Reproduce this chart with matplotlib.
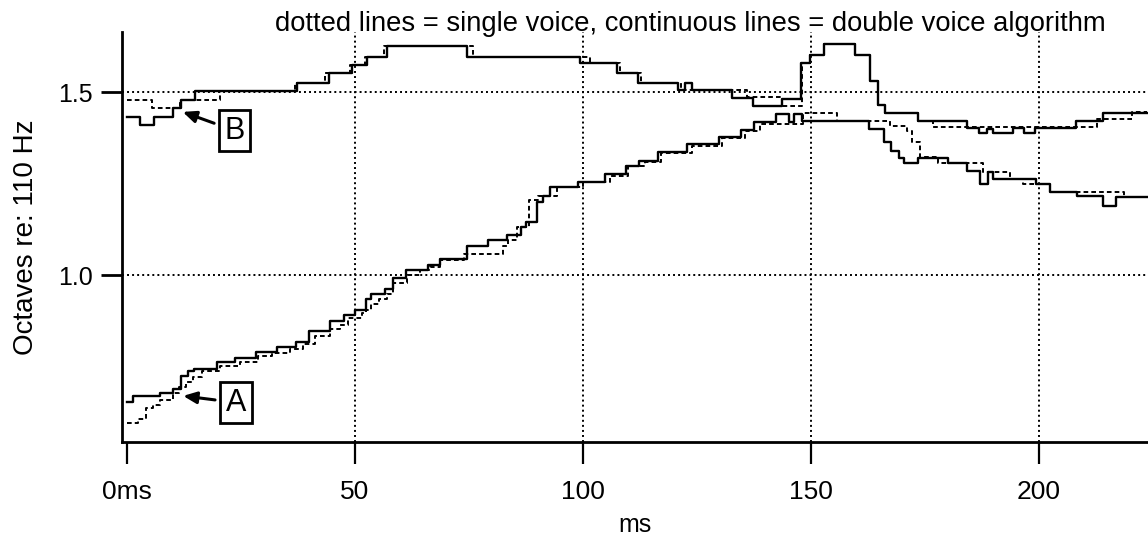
import numpy as np
import matplotlib.pyplot as plt

plt.rcParams['font.family'] = ['Liberation Sans', 'DejaVu Sans']

# --- Data (step start times in ms, pitch in octaves re: 110 Hz) ---

# A, continuous line (double voice algorithm)
a_double_t = [0, 1.25, 7.2, 10.1, 11.8, 13.4, 14.7, 19.7, 23.7, 28.3, 32.8, 37.1, 39.9,
              44.5, 47.6, 50.0, 52.3, 53.4, 56.6, 58.3, 61.2, 65.9, 68.6, 74.6, 79.2,
              83.4, 86.3, 87.5, 90.0, 91.3, 92.8, 98.8, 104.8, 109.4, 112.3, 116.4,
              122.9, 129.9, 134.6, 137.5, 142.3, 145.2, 146.3, 148.0, 162.7, 166.1,
              167.5, 169.3, 170.4, 173.4, 180.1, 184.1, 187.1, 188.8, 190.0, 199.3,
              202.3, 208.3, 214.0, 216.9]
a_double_y = [0.655, 0.672, 0.680, 0.690, 0.725, 0.740, 0.745, 0.763, 0.775, 0.791, 0.805,
              0.819, 0.847, 0.876, 0.892, 0.906, 0.936, 0.949, 0.963, 0.994, 1.015, 1.029,
              1.045, 1.081, 1.097, 1.111, 1.132, 1.147, 1.202, 1.217, 1.241, 1.255, 1.276,
              1.299, 1.314, 1.338, 1.358, 1.378, 1.398, 1.419, 1.440, 1.419, 1.440, 1.423,
              1.400, 1.364, 1.341, 1.322, 1.308, 1.322, 1.307, 1.286, 1.250, 1.284, 1.263,
              1.250, 1.227, 1.216, 1.191, 1.215]

# A, dotted line (single voice)
a_single_t = [0, 2.5, 4.2, 5.6, 7.2, 10.0, 11.5, 12.9, 14.4, 16.4, 20.4, 24.8, 28.7, 31.8,
              35.8, 38.6, 41.2, 44.5, 46.7, 48.5, 51.5, 52.4, 53.4, 55.3, 57.0, 58.4, 61.3,
              64.3, 66.5, 68.6, 73.8, 82.4, 83.6, 85.5, 88.2, 90.2, 94.2, 100.0, 105.9,
              109.9, 113.6, 117.1, 123.9, 130.5, 135.5, 138.8, 148.2, 155.7, 167.3, 171.1,
              172.1, 173.9, 177.9, 187.8, 193.6, 196.5, 202.3, 218.6]
a_single_y = [0.598, 0.607, 0.637, 0.646, 0.660, 0.678, 0.696, 0.710, 0.722, 0.739, 0.752,
              0.764, 0.780, 0.788, 0.800, 0.812, 0.834, 0.855, 0.865, 0.883, 0.897, 0.906,
              0.922, 0.936, 0.949, 0.980, 1.000, 1.015, 1.024, 1.042, 1.059, 1.081, 1.097,
              1.132, 1.206, 1.217, 1.241, 1.255, 1.272, 1.299, 1.310, 1.334, 1.355, 1.376,
              1.396, 1.415, 1.443, 1.423, 1.409, 1.395, 1.364, 1.325, 1.308, 1.284, 1.263,
              1.250, 1.227, 1.215]

# B, continuous line (double voice algorithm)
b_double_t = [0, 2.85, 5.9, 10.1, 11.8, 14.9, 37.2, 44.3, 49.4, 52.6, 57.0, 74.5, 99.3,
              107.4, 112.1, 120.9, 122.4, 123.8, 132.6, 137.3, 143.6, 147.8, 149.8, 152.9,
              159.6, 162.9, 164.6, 166.2, 173.5, 184.1, 186.9, 188.7, 190.0, 194.4, 196.7,
              199.1, 208.1, 214.1]
b_double_y = [1.434, 1.411, 1.434, 1.457, 1.480, 1.504, 1.525, 1.552, 1.575, 1.598, 1.627,
              1.598, 1.580, 1.554, 1.527, 1.507, 1.527, 1.507, 1.484, 1.464, 1.482, 1.581,
              1.602, 1.632, 1.602, 1.532, 1.466, 1.445, 1.423, 1.402, 1.389, 1.400, 1.389,
              1.402, 1.389, 1.402, 1.423, 1.445]

# B, dotted line (single voice)
b_single_t = [0, 5.4, 11.6, 20.4, 36.8, 43.4, 48.9, 52.2, 56.4, 75.9, 101.5, 108.1, 112.7,
              121.5, 135.9, 143.6, 148.0, 149.8, 152.9, 159.6, 162.9, 164.6, 166.2, 173.5,
              176.8, 212.7, 220.3]
b_single_y = [1.480, 1.457, 1.480, 1.504, 1.525, 1.552, 1.575, 1.598, 1.627, 1.598, 1.580,
              1.554, 1.527, 1.507, 1.487, 1.464, 1.581, 1.602, 1.632, 1.602, 1.532, 1.466,
              1.445, 1.423, 1.405, 1.427, 1.447]

t_end = 223.6

x_ticks = [0, 50, 100, 150, 200]
x_tick_labels = ['0ms', '50', '100', '150', '200']
y_ticks = [1.0, 1.5]
y_tick_labels = ['1.0', '1.5']

# --- Plot ---
fig = plt.figure(figsize=(11.48, 5.35), dpi=100)
ax = fig.add_axes([0.1063, 0.1738, 0.8937, 0.7662])


def draw_steps(t, y, **kw):
    # extend last step to the end of the recording
    tt = list(t) + [t_end]
    yy = list(y) + [y[-1]]
    ax.step(tt, yy, where='post', color='black', **kw)


draw_steps(a_double_t, a_double_y, lw=1.7, zorder=3)
draw_steps(b_double_t, b_double_y, lw=1.7, zorder=3)
draw_steps(a_single_t, a_single_y, lw=1.4, ls=(0, (2.4, 1.6)), zorder=2)
draw_steps(b_single_t, b_single_y, lw=1.4, ls=(0, (2.4, 1.6)), zorder=2)

# dotted grid
for gx in x_ticks[1:]:
    ax.axvline(gx, color='black', lw=1.4, ls=(0, (1, 1.6)), zorder=1)
for gy in y_ticks:
    ax.axhline(gy, color='black', lw=1.4, ls=(0, (1, 1.6)), zorder=1)

ax.set_xlim(-1.1, 223.9)
ax.set_ylim(0.545, 1.665)

ax.spines['top'].set_visible(False)
ax.spines['right'].set_visible(False)
ax.spines['left'].set_linewidth(2)
ax.spines['bottom'].set_linewidth(2)

ax.set_xticks(x_ticks)
ax.set_xticklabels(x_tick_labels)
ax.set_yticks(y_ticks)
ax.set_yticklabels(y_tick_labels)
ax.tick_params(axis='x', direction='out', length=16, width=1.6, pad=11, labelsize=19)
ax.tick_params(axis='y', direction='out', length=15, width=2, pad=6, labelsize=18)

ax.set_xlabel('ms', fontsize=18, labelpad=7)
ax.set_ylabel('Octaves re: 110 Hz', fontsize=20, labelpad=14)

fig.text(0.601, 0.955, 'dotted lines = single voice, continuous lines = double voice algorithm',
         ha='center', va='center', fontsize=19.7)

# labels A and B with arrows
box = dict(boxstyle='square,pad=0.18', fc='white', ec='black', lw=2)
arrow = dict(arrowstyle='-|>,head_length=0.8,head_width=0.35', color='black', lw=2.2,
             shrinkA=0, shrinkB=0)
ax.annotate('', xy=(12.3, 0.671), xytext=(19.3, 0.660), arrowprops=arrow)
ax.text(23.9, 0.652, 'A', ha='center', va='center', fontsize=22, bbox=box)
ax.annotate('', xy=(12.2, 1.447), xytext=(19.1, 1.416), arrowprops=arrow)
ax.text(23.6, 1.395, 'B', ha='center', va='center', fontsize=22, bbox=box)

fig.savefig('out.png', dpi=100)
